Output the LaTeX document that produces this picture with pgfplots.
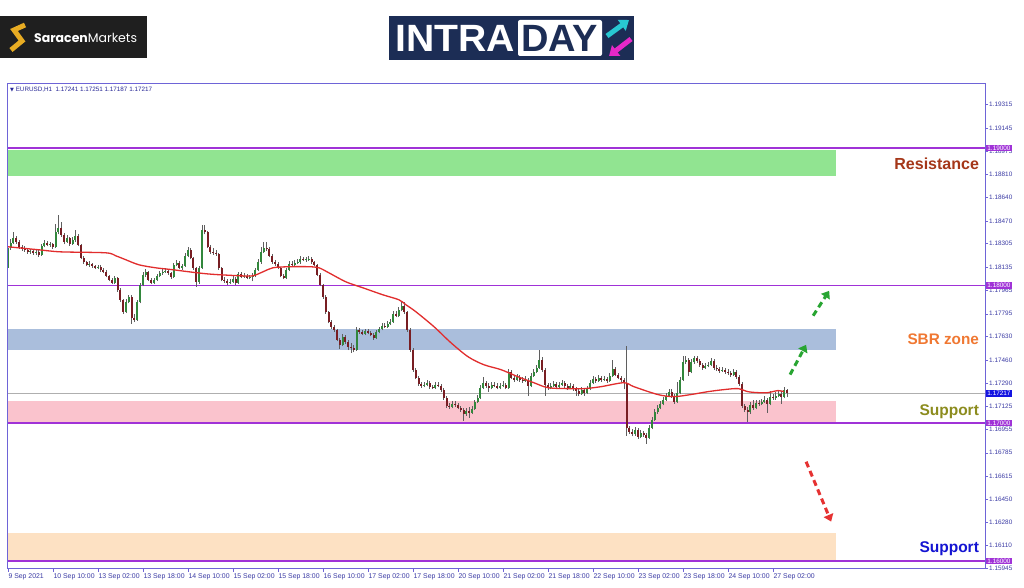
\documentclass[border=0pt]{standalone}
\usepackage{fontspec}
\setmainfont{Liberation Sans}
\newfontfamily\dejavu{DejaVu Sans}
\newfontfamily\poppins{Poppins}
\usepackage{graphicx}
\usepackage{pgfplots}
\pgfplotsset{compat=1.18}
\usepackage{pgfplotstable}
\usetikzlibrary{arrows.meta}

\definecolor{framec}{RGB}{110,100,215}
\definecolor{ticktext}{RGB}{60,60,165}
\definecolor{lvl}{RGB}{160,50,215}
\definecolor{curblue}{RGB}{20,20,225}
\definecolor{zgreen}{RGB}{145,228,145}
\definecolor{zblue}{RGB}{170,190,220}
\definecolor{zpink}{RGB}{250,195,205}
\definecolor{zpeach}{RGB}{253,225,195}
\definecolor{bull}{RGB}{50,135,60}
\definecolor{bear}{RGB}{120,30,35}
\definecolor{wickc}{RGB}{95,95,95}
\definecolor{maline}{RGB}{225,45,45}
\definecolor{resc}{RGB}{165,55,25}
\definecolor{sbrc}{RGB}{240,120,50}
\definecolor{supc}{RGB}{140,140,30}
\definecolor{supb}{RGB}{20,20,210}
\definecolor{arrg}{RGB}{40,165,50}
\definecolor{arrr}{RGB}{230,50,50}
\definecolor{navy}{RGB}{28,45,85}
\definecolor{gold}{RGB}{232,172,35}
\definecolor{cyanl}{RGB}{40,200,210}
\definecolor{magl}{RGB}{230,40,200}
\definecolor{hdr}{RGB}{40,40,150}
\definecolor{curline}{RGB}{175,175,175}

\pgfplotstableread{
i o h l c
0 1.18129 1.18297 1.18108 1.18275
1 1.18275 1.18340 1.18262 1.18311
2 1.18311 1.18391 1.18300 1.18347
3 1.18347 1.18362 1.18304 1.18318
4 1.18318 1.18330 1.18268 1.18282
5 1.18282 1.18296 1.18252 1.18268
6 1.18268 1.18285 1.18244 1.18260
7 1.18260 1.18272 1.18232 1.18245
8 1.18245 1.18268 1.18230 1.18253
9 1.18253 1.18264 1.18225 1.18238
10 1.18238 1.18262 1.18222 1.18245
11 1.18245 1.18255 1.18209 1.18224
12 1.18224 1.18305 1.18215 1.18289
13 1.18289 1.18330 1.18278 1.18311
14 1.18311 1.18325 1.18284 1.18297
15 1.18297 1.18320 1.18282 1.18304
16 1.18304 1.18312 1.18268 1.18282
17 1.18282 1.18445 1.18275 1.18390
18 1.18390 1.18514 1.18372 1.18420
19 1.18420 1.18462 1.18355 1.18369
20 1.18369 1.18380 1.18300 1.18318
21 1.18318 1.18370 1.18310 1.18347
22 1.18347 1.18356 1.18290 1.18304
23 1.18304 1.18350 1.18295 1.18333
24 1.18333 1.18405 1.18320 1.18361
25 1.18361 1.18372 1.18285 1.18297
26 1.18297 1.18305 1.18190 1.18202
27 1.18202 1.18212 1.18160 1.18172
28 1.18172 1.18180 1.18140 1.18151
29 1.18151 1.18175 1.18138 1.18158
30 1.18158 1.18166 1.18130 1.18143
31 1.18143 1.18150 1.18118 1.18129
32 1.18129 1.18152 1.18120 1.18136
33 1.18136 1.18146 1.18102 1.18115
34 1.18115 1.18125 1.18088 1.18100
35 1.18100 1.18110 1.18060 1.18071
36 1.18071 1.18080 1.18030 1.18042
37 1.18042 1.18052 1.18008 1.18020
38 1.18020 1.18068 1.18012 1.18057
39 1.18057 1.18064 1.17955 1.17970
40 1.17970 1.17980 1.17880 1.17897
41 1.17897 1.17905 1.17795 1.17809
42 1.17809 1.17900 1.17800 1.17882
43 1.17882 1.17935 1.17870 1.17919
44 1.17919 1.17928 1.17723 1.17766
45 1.17766 1.17790 1.17735 1.17752
46 1.17752 1.17895 1.17745 1.17882
47 1.17882 1.18020 1.17870 1.18006
48 1.18006 1.18095 1.17995 1.18079
49 1.18079 1.18118 1.18062 1.18100
50 1.18100 1.18108 1.18030 1.18042
51 1.18042 1.18055 1.18008 1.18020
52 1.18020 1.18058 1.18010 1.18042
53 1.18042 1.18085 1.18032 1.18071
54 1.18071 1.18108 1.18060 1.18093
55 1.18093 1.18118 1.18080 1.18100
56 1.18100 1.18125 1.18090 1.18108
57 1.18108 1.18120 1.18080 1.18093
58 1.18093 1.18102 1.18050 1.18064
59 1.18064 1.18165 1.18055 1.18151
60 1.18151 1.18185 1.18140 1.18166
61 1.18166 1.18175 1.18118 1.18129
62 1.18129 1.18160 1.18115 1.18143
63 1.18143 1.18235 1.18135 1.18216
64 1.18216 1.18280 1.18205 1.18260
65 1.18260 1.18270 1.18190 1.18202
66 1.18202 1.18210 1.18115 1.18129
67 1.18129 1.18138 1.17991 1.18027
68 1.18027 1.18145 1.18015 1.18129
69 1.18129 1.18442 1.18120 1.18405
70 1.18405 1.18442 1.18372 1.18390
71 1.18390 1.18398 1.18270 1.18282
72 1.18282 1.18295 1.18232 1.18245
73 1.18245 1.18270 1.18225 1.18238
74 1.18238 1.18260 1.18218 1.18231
75 1.18231 1.18240 1.18115 1.18129
76 1.18129 1.18138 1.18030 1.18042
77 1.18042 1.18060 1.18020 1.18035
78 1.18035 1.18050 1.18006 1.18020
79 1.18020 1.18045 1.18010 1.18027
80 1.18027 1.18068 1.18018 1.18050
81 1.18050 1.18060 1.18006 1.18020
82 1.18020 1.18100 1.18012 1.18086
83 1.18086 1.18098 1.18052 1.18064
84 1.18064 1.18090 1.18055 1.18071
85 1.18071 1.18082 1.18045 1.18057
86 1.18057 1.18080 1.18048 1.18064
87 1.18064 1.18088 1.18030 1.18071
88 1.18071 1.18130 1.18062 1.18115
89 1.18115 1.18190 1.18105 1.18172
90 1.18172 1.18280 1.18160 1.18245
91 1.18245 1.18318 1.18235 1.18275
92 1.18275 1.18318 1.18250 1.18268
93 1.18268 1.18280 1.18205 1.18216
94 1.18216 1.18228 1.18160 1.18172
95 1.18172 1.18185 1.18145 1.18158
96 1.18158 1.18170 1.18118 1.18129
97 1.18129 1.18138 1.18060 1.18071
98 1.18071 1.18085 1.18045 1.18057
99 1.18057 1.18130 1.18048 1.18115
100 1.18115 1.18175 1.18105 1.18158
101 1.18158 1.18180 1.18140 1.18151
102 1.18151 1.18185 1.18140 1.18166
103 1.18166 1.18195 1.18155 1.18172
104 1.18172 1.18215 1.18160 1.18195
105 1.18195 1.18210 1.18175 1.18187
106 1.18187 1.18208 1.18172 1.18190
107 1.18190 1.18212 1.18178 1.18195
108 1.18195 1.18205 1.18160 1.18172
109 1.18172 1.18180 1.18140 1.18151
110 1.18151 1.18160 1.18068 1.18079
111 1.18079 1.18088 1.17995 1.18006
112 1.18006 1.18015 1.17905 1.17919
113 1.17919 1.17928 1.17795 1.17809
114 1.17809 1.17818 1.17725 1.17737
115 1.17737 1.17748 1.17688 1.17701
116 1.17701 1.17712 1.17665 1.17679
117 1.17679 1.17688 1.17595 1.17607
118 1.17607 1.17618 1.17540 1.17571
119 1.17571 1.17645 1.17560 1.17628
120 1.17628 1.17640 1.17578 1.17592
121 1.17592 1.17605 1.17530 1.17556
122 1.17556 1.17580 1.17512 1.17549
123 1.17549 1.17565 1.17515 1.17534
124 1.17534 1.17700 1.17525 1.17679
125 1.17679 1.17695 1.17650 1.17664
126 1.17664 1.17680 1.17638 1.17650
127 1.17650 1.17688 1.17640 1.17672
128 1.17672 1.17685 1.17645 1.17657
129 1.17657 1.17668 1.17630 1.17643
130 1.17643 1.17655 1.17608 1.17621
131 1.17621 1.17678 1.17612 1.17664
132 1.17664 1.17702 1.17652 1.17687
133 1.17687 1.17725 1.17675 1.17708
134 1.17708 1.17725 1.17690 1.17701
135 1.17701 1.17740 1.17690 1.17723
136 1.17723 1.17755 1.17712 1.17737
137 1.17737 1.17812 1.17728 1.17795
138 1.17795 1.17815 1.17768 1.17780
139 1.17780 1.17845 1.17770 1.17824
140 1.17824 1.17882 1.17812 1.17853
141 1.17853 1.17880 1.17795 1.17809
142 1.17809 1.17818 1.17665 1.17679
143 1.17679 1.17690 1.17520 1.17534
144 1.17534 1.17545 1.17375 1.17389
145 1.17389 1.17400 1.17318 1.17331
146 1.17331 1.17342 1.17272 1.17287
147 1.17287 1.17300 1.17258 1.17272
148 1.17272 1.17298 1.17260 1.17280
149 1.17280 1.17312 1.17268 1.17294
150 1.17294 1.17305 1.17252 1.17265
151 1.17265 1.17280 1.17245 1.17258
152 1.17258 1.17298 1.17248 1.17280
153 1.17280 1.17300 1.17260 1.17272
154 1.17272 1.17285 1.17230 1.17244
155 1.17244 1.17255 1.17172 1.17186
156 1.17186 1.17195 1.17112 1.17127
157 1.17127 1.17145 1.17105 1.17120
158 1.17120 1.17160 1.17108 1.17142
159 1.17142 1.17158 1.17120 1.17135
160 1.17135 1.17148 1.17100 1.17113
161 1.17113 1.17125 1.17082 1.17098
162 1.17098 1.17110 1.17019 1.17069
163 1.17069 1.17108 1.17055 1.17091
164 1.17091 1.17115 1.17040 1.17076
165 1.17076 1.17125 1.17065 1.17106
166 1.17106 1.17172 1.17095 1.17156
167 1.17156 1.17205 1.17145 1.17186
168 1.17186 1.17275 1.17175 1.17258
169 1.17258 1.17338 1.17245 1.17294
170 1.17294 1.17310 1.17258 1.17272
171 1.17272 1.17290 1.17230 1.17258
172 1.17258 1.17300 1.17245 1.17280
173 1.17280 1.17298 1.17260 1.17272
174 1.17272 1.17290 1.17245 1.17258
175 1.17258 1.17292 1.17245 1.17272
176 1.17272 1.17305 1.17262 1.17280
177 1.17280 1.17295 1.17245 1.17258
178 1.17258 1.17395 1.17250 1.17374
179 1.17374 1.17390 1.17318 1.17331
180 1.17331 1.17345 1.17300 1.17316
181 1.17316 1.17358 1.17305 1.17338
182 1.17338 1.17350 1.17300 1.17316
183 1.17316 1.17335 1.17295 1.17309
184 1.17309 1.17340 1.17298 1.17316
185 1.17316 1.17328 1.17200 1.17272
186 1.17272 1.17365 1.17262 1.17345
187 1.17345 1.17392 1.17335 1.17374
188 1.17374 1.17425 1.17362 1.17403
189 1.17403 1.17534 1.17395 1.17461
190 1.17461 1.17480 1.17375 1.17389
191 1.17389 1.17398 1.17200 1.17280
192 1.17280 1.17292 1.17242 1.17258
193 1.17258 1.17295 1.17245 1.17272
194 1.17272 1.17305 1.17260 1.17287
195 1.17287 1.17300 1.17250 1.17265
196 1.17265 1.17300 1.17252 1.17280
197 1.17280 1.17315 1.17268 1.17294
198 1.17294 1.17305 1.17258 1.17272
199 1.17272 1.17288 1.17240 1.17258
200 1.17258 1.17292 1.17245 1.17272
201 1.17272 1.17285 1.17235 1.17251
202 1.17251 1.17262 1.17200 1.17237
203 1.17237 1.17250 1.17195 1.17215
204 1.17215 1.17262 1.17205 1.17244
205 1.17244 1.17255 1.17198 1.17222
206 1.17222 1.17270 1.17212 1.17251
207 1.17251 1.17312 1.17240 1.17294
208 1.17294 1.17342 1.17282 1.17323
209 1.17323 1.17338 1.17295 1.17309
210 1.17309 1.17350 1.17298 1.17331
211 1.17331 1.17345 1.17302 1.17316
212 1.17316 1.17342 1.17305 1.17323
213 1.17323 1.17335 1.17292 1.17309
214 1.17309 1.17365 1.17300 1.17345
215 1.17345 1.17461 1.17335 1.17396
216 1.17396 1.17410 1.17340 1.17353
217 1.17353 1.17365 1.17318 1.17331
218 1.17331 1.17345 1.17300 1.17316
219 1.17316 1.17330 1.17245 1.17294
220 1.17294 1.17563 1.16909 1.16968
221 1.16968 1.16980 1.16920 1.16938
222 1.16938 1.16955 1.16905 1.16924
223 1.16924 1.16972 1.16910 1.16953
224 1.16953 1.16965 1.16888 1.16902
225 1.16902 1.16950 1.16890 1.16931
226 1.16931 1.16945 1.16900 1.16917
227 1.16917 1.16930 1.16851 1.16895
228 1.16895 1.16985 1.16885 1.16968
229 1.16968 1.17045 1.16955 1.17026
230 1.17026 1.17100 1.17015 1.17083
231 1.17083 1.17130 1.17070 1.17113
232 1.17113 1.17160 1.17100 1.17142
233 1.17142 1.17190 1.17130 1.17171
234 1.17171 1.17218 1.17160 1.17200
235 1.17200 1.17250 1.17190 1.17229
236 1.17229 1.17245 1.17185 1.17200
237 1.17200 1.17212 1.17140 1.17156
238 1.17156 1.17300 1.17145 1.17222
239 1.17222 1.17335 1.17210 1.17316
240 1.17316 1.17490 1.17305 1.17446
241 1.17446 1.17490 1.17430 1.17461
242 1.17461 1.17475 1.17345 1.17374
243 1.17374 1.17465 1.17362 1.17446
244 1.17446 1.17490 1.17432 1.17476
245 1.17476 1.17488 1.17440 1.17454
246 1.17454 1.17468 1.17410 1.17425
247 1.17425 1.17440 1.17390 1.17403
248 1.17403 1.17435 1.17392 1.17418
249 1.17418 1.17445 1.17405 1.17425
250 1.17425 1.17472 1.17412 1.17454
251 1.17454 1.17465 1.17390 1.17403
252 1.17403 1.17420 1.17382 1.17396
253 1.17396 1.17410 1.17368 1.17382
254 1.17382 1.17408 1.17372 1.17389
255 1.17389 1.17400 1.17360 1.17374
256 1.17374 1.17392 1.17352 1.17367
257 1.17367 1.17380 1.17338 1.17353
258 1.17353 1.17395 1.17340 1.17374
259 1.17374 1.17385 1.17322 1.17338
260 1.17338 1.17350 1.17270 1.17287
261 1.17287 1.17298 1.17110 1.17127
262 1.17127 1.17140 1.17080 1.17098
263 1.17098 1.17115 1.17011 1.17083
264 1.17083 1.17155 1.17070 1.17135
265 1.17135 1.17165 1.17098 1.17113
266 1.17113 1.17168 1.17100 1.17149
267 1.17149 1.17165 1.17128 1.17142
268 1.17142 1.17178 1.17130 1.17156
269 1.17156 1.17200 1.17145 1.17171
270 1.17171 1.17185 1.17077 1.17142
271 1.17142 1.17235 1.17130 1.17193
272 1.17193 1.17215 1.17170 1.17186
273 1.17186 1.17225 1.17172 1.17200
274 1.17200 1.17240 1.17190 1.17215
275 1.17215 1.17232 1.17140 1.17193
276 1.17193 1.17262 1.17180 1.17241
277 1.17241 1.17251 1.17187 1.17217
}\candles

\begin{document}
\begin{tikzpicture}
\useasboundingbox[fill=white] (-7pt,-18.5pt) rectangle (1017pt,568.5pt);
\begin{axis}[
  at={(0pt,0pt)}, anchor=south west,
  scale only axis, width=978pt, height=485.5pt,
  xmin=-0.3, xmax=347.4, ymin=1.15944, ymax=1.19472,
  clip=false,
  axis line style={color=framec, line width=0.9pt},
  xtick pos=left, ytick pos=right, yticklabel pos=right,
  tick align=outside, major tick length=3pt,
  tick style={color=framec, line width=0.5pt},
  xtick={0,16,32,48,64,80,96,112,128,144,160,176,192,208,224,240,256,272},
  xticklabels={9 Sep 2021,10 Sep 10:00,13 Sep 02:00,13 Sep 18:00,14 Sep 10:00,15 Sep 02:00,15 Sep 18:00,16 Sep 10:00,17 Sep 02:00,17 Sep 18:00,20 Sep 10:00,21 Sep 02:00,21 Sep 18:00,22 Sep 10:00,23 Sep 02:00,23 Sep 18:00,24 Sep 10:00,27 Sep 02:00},
  xticklabel style={anchor=north west, font=\fontsize{6.9}{7}\selectfont, text=ticktext, inner xsep=0.5pt, inner ysep=1.5pt},
  ytick={1.15945,1.16110,1.16280,1.16450,1.16615,1.16785,1.16955,1.17125,1.17290,1.17460,1.17630,1.17795,1.17965,1.18135,1.18305,1.18470,1.18640,1.18810,1.18975,1.19145,1.19315},
  yticklabels={1.15945,1.16110,1.16280,1.16450,1.16615,1.16785,1.16955,1.17125,1.17290,1.17460,1.17630,1.17795,1.17965,1.18135,1.18305,1.18470,1.18640,1.18810,1.18975,1.19145,1.19315},
  yticklabel style={anchor=west, font=\fontsize{6.4}{7}\selectfont, text=ticktext, inner xsep=1pt},
]
% zones
\addplot[draw=none, fill=zgreen] coordinates {(-0.3,1.18797) (294.5,1.18797) (294.5,1.18985) (-0.3,1.18985)} -- cycle;
\addplot[draw=none, fill=zblue] coordinates {(-0.3,1.17533) (294.5,1.17533) (294.5,1.17686) (-0.3,1.17686)} -- cycle;
\addplot[draw=none, fill=zpink] coordinates {(-0.3,1.17010) (294.5,1.17010) (294.5,1.17163) (-0.3,1.17163)} -- cycle;
\addplot[draw=none, fill=zpeach] coordinates {(-0.3,1.16008) (294.5,1.16008) (294.5,1.16204) (-0.3,1.16204)} -- cycle;
% current price line
\addplot[color=curline, no markers, line width=0.6pt] coordinates {(-0.3,1.17217) (347.4,1.17217)};
% level lines
\addplot[color=lvl, no markers, line width=1.5pt] coordinates {(-0.3,1.19) (347.4,1.19)};
\addplot[color=lvl, no markers, line width=1.5pt] coordinates {(-0.3,1.18) (347.4,1.18)};
\addplot[color=lvl, no markers, line width=1.5pt] coordinates {(-0.3,1.17) (347.4,1.17)};
\addplot[color=lvl, no markers, line width=1.5pt] coordinates {(-0.3,1.16) (347.4,1.16)};
% wicks
\addplot[draw=none, no markers, error bars/.cd, y dir=plus, y explicit, error mark=none,
  error bar style={draw=wickc, line width=0.7pt, line cap=butt, solid}]
  table[x=i, y=l, y error plus expr={\thisrow{h}-\thisrow{l}}] {\candles};
% bull bodies
\addplot[draw=none, no markers, error bars/.cd, y dir=plus, y explicit, error mark=none,
  error bar style={draw=bull, line width=2.0pt, line cap=butt, solid}]
  table[x=i, y=o, y error plus expr={max(\thisrow{c}-\thisrow{o},0)}] {\candles};
% bear bodies
\addplot[draw=none, no markers, error bars/.cd, y dir=plus, y explicit, error mark=none,
  error bar style={draw=bear, line width=2.0pt, line cap=butt, solid}]
  table[x=i, y=c, y error plus expr={max(\thisrow{o}-\thisrow{c},0)}] {\candles};
% moving average
\addplot[color=maline, no markers, line width=1.3pt, smooth, tension=0.5] coordinates {
(0,1.18282) (11,1.18260) (18.8,1.18245) (34.8,1.18238) (38.4,1.18216) (42,1.18187)
(46.6,1.18151) (52.6,1.18129) (58.7,1.18115) (64.4,1.18100) (70.4,1.18086) (75,1.18079)
(82.8,1.18071) (87.1,1.18071) (90.7,1.18100) (94.2,1.18129) (99.9,1.18137) (107,1.18137)
(110.6,1.18129) (114.1,1.18093) (120.2,1.18027) (126.2,1.17984) (133.3,1.17933) (139,1.17897)
(141.5,1.17861) (145.1,1.17809) (151.5,1.17701) (157.5,1.17585) (163.6,1.17483) (169.2,1.17425)
(175.3,1.17389) (181.3,1.17338) (187,1.17294) (192,1.17258) (199.1,1.17251) (204.8,1.17251)
(210.8,1.17265) (219,1.17294) (222.6,1.17265) (231.1,1.17208) (236.8,1.17193) (242.8,1.17208)
(248.9,1.17229) (254.6,1.17244) (259.6,1.17251) (263.1,1.17229) (266.7,1.17222) (270.2,1.17222)
(273.8,1.17237) (275.9,1.17229)};
% frame on top
\draw[framec, line width=0.9pt] (rel axis cs:0,0) rectangle (rel axis cs:1,1);
% arrows
\draw[arrg, line width=3pt, dash pattern=on 6pt off 4pt, -{Triangle[length=7pt,width=10pt]}]
  (axis cs:278.1,1.17353) -- (axis cs:283.8,1.17570);
\draw[arrg, line width=3pt, dash pattern=on 6pt off 4pt, -{Triangle[length=7pt,width=10pt]}]
  (axis cs:286.3,1.17781) -- (axis cs:292.0,1.17962);
\draw[arrr, line width=3pt, dash pattern=on 6pt off 4pt, -{Triangle[length=7pt,width=10pt]}]
  (axis cs:283.8,1.16720) -- (axis cs:292.7,1.16285);
% zone labels
\node[anchor=east, inner sep=0pt, text=resc, font=\fontsize{16}{16}\selectfont\bfseries] at (axis cs:345.3,1.18884) {Resistance};
\node[anchor=east, inner sep=0pt, text=sbrc, font=\fontsize{15.3}{16}\selectfont\bfseries] at (axis cs:345.3,1.17607) {SBR zone};
\node[anchor=east, inner sep=0pt, text=supc, font=\fontsize{15.5}{16}\selectfont\bfseries] at (axis cs:345.3,1.17084) {Support};
\node[anchor=east, inner sep=0pt, text=supb, font=\fontsize{15.5}{16}\selectfont\bfseries] at (axis cs:345.3,1.16089) {Support};
% price boxes on the right scale
\node[anchor=west, fill=lvl, text=white, inner xsep=1.2pt, inner ysep=1pt, font=\fontsize{6.4}{7}\selectfont, xshift=1pt] at (axis cs:347.4,1.19) {1.19000};
\node[anchor=west, fill=lvl, text=white, inner xsep=1.2pt, inner ysep=1pt, font=\fontsize{6.4}{7}\selectfont, xshift=1pt] at (axis cs:347.4,1.18) {1.18000};
\node[anchor=west, fill=lvl, text=white, inner xsep=1.2pt, inner ysep=1pt, font=\fontsize{6.4}{7}\selectfont, xshift=1pt] at (axis cs:347.4,1.17) {1.17000};
\node[anchor=west, fill=lvl, text=white, inner xsep=1.2pt, inner ysep=1pt, font=\fontsize{6.4}{7}\selectfont, xshift=1pt] at (axis cs:347.4,1.16) {1.16000};
\node[anchor=west, fill=curblue, text=white, inner xsep=1.2pt, inner ysep=1pt, font=\fontsize{6.4}{7}\selectfont, xshift=1pt] at (axis cs:347.4,1.17217) {1.17217};
% header
\node[anchor=west, inner sep=0pt, text=hdr, font=\fontsize{6.3}{7}\selectfont] at (rel axis cs:0,1) [xshift=3pt, yshift=-7pt] {{\dejavu\fontsize{5}{6}\selectfont ▼}\ EURUSD,H1\ \ 1.17241 1.17251 1.17187 1.17217};
\end{axis}
% Saracen Markets logo
\fill[black!88] (-7pt,510.5pt) rectangle (140pt,552.5pt);
\draw[gold, line width=5pt, line join=miter, line cap=butt] (18pt,543.5pt) -- (7pt,538.5pt) -- (15pt,527.5pt) -- (4pt,518.5pt);
\node[anchor=west, inner sep=0pt, text=white, font=\poppins\fontsize{12.5}{13}\selectfont] at (27pt,530.5pt) {\textbf{Saracen}Markets};
% INTRADAY logo
\fill[navy] (382pt,508.5pt) rectangle (627pt,552.5pt);
\node[anchor=base west, inner sep=0pt, text=white, font=\fontsize{38}{38}\selectfont\bfseries] at (388pt,516.5pt) {\scalebox{1.03}[1]{INTRA}};
\fill[white, rounded corners=2pt] (511pt,512.5pt) rectangle (595pt,548.5pt);
\node[anchor=base west, inner sep=0pt, text=navy, font=\fontsize{38}{38}\selectfont\bfseries] at (514pt,516.5pt) {DAY};
\draw[cyanl, line width=5pt, -{Triangle[length=9pt,width=13pt]}] (600pt,532.5pt) -- (622pt,548.5pt);
\draw[magl, line width=5pt, -{Triangle[length=9pt,width=13pt]}] (624pt,529.5pt) -- (602pt,512.5pt);
\end{tikzpicture}
\end{document}
